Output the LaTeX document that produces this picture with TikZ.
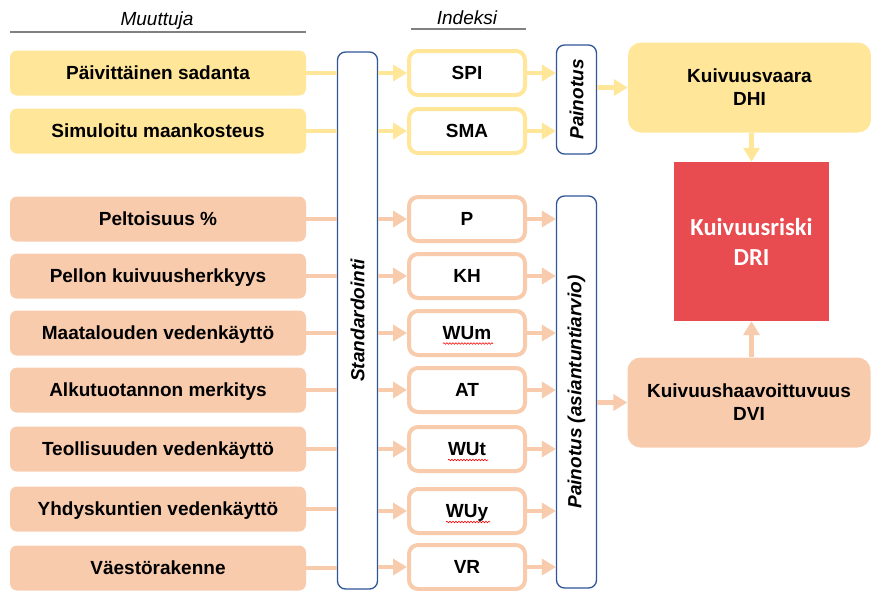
\documentclass[tikz,border=0pt]{standalone}
\usepackage{fontspec}
\setmainfont{Liberation Sans}
\newfontfamily\calibrifont{Carlito}
\usetikzlibrary{arrows.meta,decorations.pathmorphing}
\definecolor{keltainen}{HTML}{FFE699}
\definecolor{oranssi}{HTML}{F8CBAD}
\definecolor{sininen}{HTML}{2F5597}
\definecolor{punainen}{HTML}{E84C50}
\definecolor{harmaa}{HTML}{808080}

\begin{document}
\begin{tikzpicture}[x=1pt,y=-1pt,
  every node/.style={font=\fontsize{19}{23}\selectfont\bfseries, align=center, inner sep=0pt},
  muuttuja/.style={rounded corners=7pt, minimum width=296pt, minimum height=45pt, text height=13.6pt, text depth=0pt},
  indeksi/.style={draw, line width=4pt, fill=white, rounded corners=9pt, minimum width=116pt, minimum height=44pt, text height=13.6pt, text depth=0pt},
  vaihe/.style={draw=sininen, line width=1.3pt, fill=white, rounded corners=8pt, minimum width=40pt},
  pysty/.style={rotate=90, font=\fontsize{19}{23}\selectfont\bfseries\itshape},
  tulos/.style={rounded corners=13pt, minimum width=243pt, minimum height=90pt},
  otsikko/.style={anchor=base, font=\fontsize{19}{23}\selectfont\itshape},
  yviiva/.style={draw=keltainen, line width=4.2pt},
  oviiva/.style={draw=oranssi, line width=4.2pt},
  ynuoli/.style={yviiva, -{Triangle[length=14pt 0 0,width=16pt 0 0]}},
  onuoli/.style={oviiva, -{Triangle[length=14pt 0 0,width=16pt 0 0]}},
  kiemura/.style={draw=red, line width=0.6pt, decorate, decoration={snake, amplitude=0.8pt, segment length=3pt}}]
\useasboundingbox (0,0) rectangle (871,590);

\node[otsikko] (muuttujat) at (157,25) {Muuttuja};
\node[otsikko] (indeksit) at (467,24) {Indeksi};
\draw[harmaa, line width=1.5pt] (10,32) -- (306,32);
\draw[harmaa, line width=1.5pt] (411,29) -- (526,29);

\node[muuttuja, fill=keltainen] (m1) at (158,73) {Päivittäinen sadanta};
\node[muuttuja, fill=keltainen] (m2) at (158,131) {Simuloitu maankosteus};
\node[muuttuja, fill=oranssi] (m3) at (158,219) {Peltoisuus \%};
\node[muuttuja, fill=oranssi] (m4) at (158,276) {Pellon kuivuusherkkyys};
\node[muuttuja, fill=oranssi] (m5) at (158,333) {Maatalouden vedenkäyttö};
\node[muuttuja, fill=oranssi] (m6) at (158,390) {Alkutuotannon merkitys};
\node[muuttuja, fill=oranssi] (m7) at (158,449) {Teollisuuden vedenkäyttö};
\node[muuttuja, fill=oranssi] (m8) at (158,509) {Yhdyskuntien vedenkäyttö};
\node[muuttuja, fill=oranssi] (m9) at (158,568) {Väestörakenne};

\node[vaihe, minimum height=537pt] (std) at (357.5,320.5) {};
\node[pysty] (stdteksti) at (std) {Standardointi};

\node[indeksi, draw=keltainen] (i1) at (467,73) {SPI};
\node[indeksi, draw=keltainen] (i2) at (467,131) {SMA};
\node[indeksi, draw=oranssi] (i3) at (467,219) {P};
\node[indeksi, draw=oranssi] (i4) at (467,276) {KH};
\node[indeksi, draw=oranssi] (i5) at (467,333) {WUm};
\node[indeksi, draw=oranssi] (i6) at (467,390) {AT};
\node[indeksi, draw=oranssi] (i7) at (467,449) {WUt};
\node[indeksi, draw=oranssi] (i8) at (467,511) {WUy};
\node[indeksi, draw=oranssi] (i9) at (467,567) {VR};

\draw[kiemura] ([xshift=-24,yshift=-10.5]i5.center) -- ([xshift=26,yshift=-10.5]i5.center);
\draw[kiemura] ([xshift=-19,yshift=-11]i7.center) -- ([xshift=21,yshift=-11]i7.center);
\draw[kiemura] ([xshift=-21,yshift=-11]i8.center) -- ([xshift=23,yshift=-11]i8.center);

\node[vaihe, minimum height=109pt] (p1) at (576.5,99.5) {};
\node[pysty] (p1teksti) at (p1) {Painotus};
\node[vaihe, minimum height=392pt] (p2) at (576.5,392) {};
\node[pysty] (p2teksti) at (p2) {Painotus (asiantuntiarvio)};

\node[tulos, fill=keltainen] (dhi) at (749.5,87.5) {Kuivuusvaara\\DHI};
\node[fill=punainen, minimum width=155pt, minimum height=159pt, text=white, font=\calibrifont\fontsize{24.5}{30}\selectfont\bfseries] (dri) at (751.5,241.5) {Kuivuusriski\\DRI};
\node[tulos, fill=oranssi] (dvi) at (749,402.5) {Kuivuushaavoittuvuus\\DVI};

\draw[yviiva] (m1.east) -- (m1.east -| std.west);
\draw[yviiva] (m2.east) -- (m2.east -| std.west);
\draw[oviiva] (m3.east) -- (m3.east -| std.west);
\draw[oviiva] (m4.east) -- (m4.east -| std.west);
\draw[oviiva] (m5.east) -- (m5.east -| std.west);
\draw[oviiva] (m6.east) -- (m6.east -| std.west);
\draw[oviiva] (m7.east) -- (m7.east -| std.west);
\draw[oviiva] (m8.east) -- (m8.east -| std.west);
\draw[oviiva] (m9.east) -- (m9.east -| std.west);

\draw[ynuoli] (i1.west -| std.east) -- (i1.west);
\draw[ynuoli] (i2.west -| std.east) -- (i2.west);
\draw[onuoli] (i3.west -| std.east) -- (i3.west);
\draw[onuoli] (i4.west -| std.east) -- (i4.west);
\draw[onuoli] (i5.west -| std.east) -- (i5.west);
\draw[onuoli] (i6.west -| std.east) -- (i6.west);
\draw[onuoli] (i7.west -| std.east) -- (i7.west);
\draw[onuoli] (i8.west -| std.east) -- (i8.west);
\draw[onuoli] (i9.west -| std.east) -- (i9.west);

\draw[ynuoli] (i1.east) -- (i1.east -| p1.west);
\draw[ynuoli] (i2.east) -- (i2.east -| p1.west);
\draw[onuoli] (i3.east) -- (i3.east -| p2.west);
\draw[onuoli] (i4.east) -- (i4.east -| p2.west);
\draw[onuoli] (i5.east) -- (i5.east -| p2.west);
\draw[onuoli] (i6.east) -- (i6.east -| p2.west);
\draw[onuoli] (i7.east) -- (i7.east -| p2.west);
\draw[onuoli] (i8.east) -- (i8.east -| p2.west);
\draw[onuoli] (i9.east) -- (i9.east -| p2.west);

\draw[ynuoli] (dhi.west -| p1.east) -- (dhi.west);
\draw[onuoli] (dvi.west -| p2.east) -- (dvi.west);
\draw[ynuoli] (dhi.south -| dri.north) -- (dri.north);
\draw[onuoli] (dvi.north -| dri.south) -- (dri.south);
\end{tikzpicture}
\end{document}
